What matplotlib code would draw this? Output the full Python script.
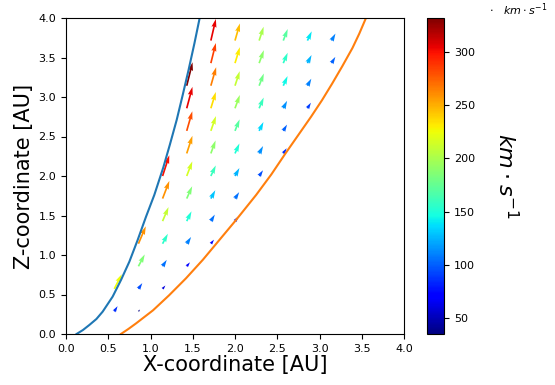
import numpy as np
import matplotlib
matplotlib.use("Agg")
import matplotlib.pyplot as plt

# grid of sample positions (AU)
grid_x = np.linspace(0, 4, 15)
grid_z = np.linspace(0, 4, 15)

# speeds (km/s) on the grid: rows = z index 13..1, cols = x index 2..11 (nan = no arrow)
nan = np.nan
col_index = [2, 3, 4, 5, 6, 7, 8, 9, 10, 11]
row_index = [13, 12, 11, 10, 9, 8, 7, 6, 5, 4, 3, 2, 1]
speed = [
    [nan, nan, nan, nan, 305, 245, 200, 170, 140, 110],
    [nan, nan, nan, nan, 285, 230, 190, 155, 125, 100],
    [nan, nan, nan, 332, 265, 210, 180, 145, 110, nan],
    [nan, nan, nan, 305, 235, 195, 160, 115, 90, nan],
    [nan, nan, nan, 280, 215, 170, 135, 100, nan, nan],
    [nan, nan, nan, 255, 190, 150, 115, 85, nan, nan],
    [nan, nan, 300, 215, 160, 125, 95, nan, nan, nan],
    [nan, nan, 260, 185, 130, 105, nan, nan, nan, nan],
    [nan, nan, 210, 150, 105, 80, nan, nan, nan, nan],
    [nan, 260, 155, 110, 70, nan, nan, nan, nan, nan],
    [nan, 185, 105, 70, nan, nan, nan, nan, nan, nan],
    [225, 95, 60, nan, nan, nan, nan, nan, nan, nan],
    [85, 35, nan, nan, nan, nan, nan, nan, nan, nan],
]
# flow direction (degrees from +x) for each arrow
angle = [
    [nan, nan, nan, nan, 77, 74, 72, 69, 65, 61],
    [nan, nan, nan, nan, 76, 73, 70, 67, 63, 59],
    [nan, nan, nan, 76, 74, 72, 69, 66, 61, nan],
    [nan, nan, nan, 75, 73, 70, 67, 63, 58, nan],
    [nan, nan, nan, 74, 71, 68, 64, 59, nan, nan],
    [nan, nan, nan, 72, 70, 66, 62, 57, nan, nan],
    [nan, nan, 72, 69, 65, 61, 56, nan, nan, nan],
    [nan, nan, 69, 66, 62, 57, nan, nan, nan, nan],
    [nan, nan, 67, 64, 59, 54, nan, nan, nan, nan],
    [nan, 67, 62, 57, 52, nan, nan, nan, nan, nan],
    [nan, 62, 57, 51, nan, nan, nan, nan, nan, nan],
    [63, 56, 50, nan, nan, nan, nan, nan, nan, nan],
    [58, 50, nan, nan, nan, nan, nan, nan, nan, nan],
]

# boundary curves (AU)
inner_x = [0.125, 0.20, 0.276, 0.36, 0.434, 0.552, 0.651, 0.750, 0.848, 0.947, 1.045,
           1.152, 1.23, 1.31, 1.38, 1.45, 1.52, 1.58, 1.60]
inner_z = [0.000, 0.05, 0.114, 0.19, 0.283, 0.473, 0.684, 0.916, 1.190, 1.485, 1.760,
           2.110, 2.40, 2.71, 3.02, 3.34, 3.68, 3.99, 4.10]
outer_x = [0.65, 0.74, 0.83, 1.03, 1.22, 1.42, 1.62, 1.815, 2.01, 2.25, 2.43, 2.60, 2.75,
           2.90, 3.03, 3.15, 3.27, 3.39, 3.47, 3.55, 3.59]
outer_z = [0.00, 0.065, 0.135, 0.30, 0.49, 0.705, 0.94, 1.19, 1.44, 1.76, 2.02, 2.29, 2.52,
           2.75, 2.96, 3.17, 3.39, 3.62, 3.80, 4.00, 4.10]

X, Z, U, V, C = [], [], [], [], []
for r, j in enumerate(row_index):
    for c, i in enumerate(col_index):
        s = speed[r][c]
        if np.isnan(s):
            continue
        a = np.deg2rad(angle[r][c])
        X.append(grid_x[i]); Z.append(grid_z[j])
        U.append(s * np.cos(a)); V.append(s * np.sin(a)); C.append(s)

fig = plt.figure(figsize=(5.55, 3.85), dpi=100)
ax = fig.add_axes([66/555, 51/385, 338/555, 316/385])
cax = fig.add_axes([427/555, 51/385, 17/555, 316/385])

ax.plot(inner_x, inner_z, color='#1f77b4', lw=1.5)
ax.plot(outer_x, outer_z, color='#ff7f0e', lw=1.5)
q = ax.quiver(X, Z, U, V, C, cmap='jet', angles='uv', scale_units='width', scale=4650,
              width=0.005)
ax.set_xlim(0, 4)
ax.set_ylim(0, 4)
ax.set_xticks(np.arange(0, 4.01, 0.5))
ax.set_yticks(np.arange(0, 4.01, 0.5))
ax.tick_params(labelsize=8)
ax.set_xlabel('X-coordinate [AU]', fontsize=15, labelpad=1)
ax.set_ylabel('Z-coordinate [AU]', fontsize=15, labelpad=3)

cb = fig.colorbar(q, cax=cax)
cb.ax.tick_params(labelsize=8)
cb.set_label(r'$km \cdot s^{-1}$', rotation=270, fontsize=16, labelpad=32)
fig.text(548/555, 1 - 10/385, r'$\cdot\ \ \ km \cdot s^{-1}$', fontsize=8, ha='right', va='center')

fig.savefig('out.png', dpi=100)
